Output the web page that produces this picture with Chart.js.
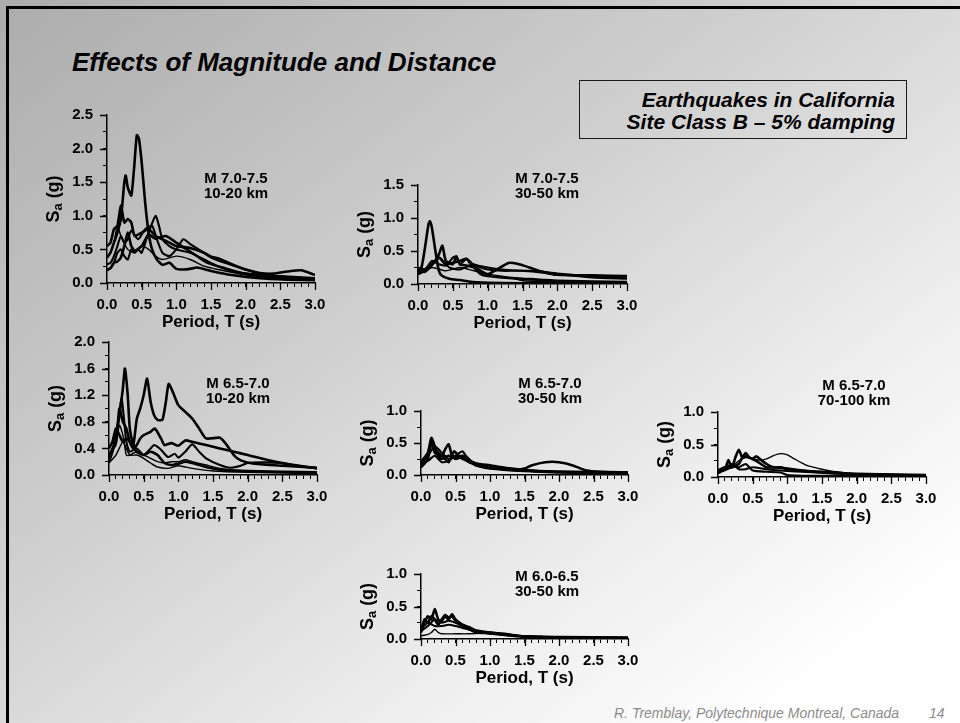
<!DOCTYPE html>
<html>
<head>
<meta charset="utf-8">
<script src="https://cdn.jsdelivr.net/npm/chart.js@4.4.1/dist/chart.umd.min.js"></script>
<style>
  html, body { margin: 0; padding: 0; }
  #slide {
    position: relative; width: 960px; height: 723px; overflow: hidden;
    background: linear-gradient(to bottom right, #acacac 0%, #cfcfcf 40%, #eeeeee 70%, #ffffff 90%);
    font-family: "Liberation Sans", Arial, sans-serif; color: #000;
  }
  .frame-top { position: absolute; left: 6px; top: 6px; right: 0; height: 3px; background: #000; }
  .frame-left { position: absolute; left: 6px; top: 6px; bottom: 0; width: 3px; background: #000; }
  .title { position: absolute; left: 72px; top: 49px; margin: 0; white-space: nowrap;
    font: italic bold 26px/26px "Liberation Sans", Arial, sans-serif; }
  .note-box { position: absolute; left: 579px; top: 80px; width: 328px; height: 59px;
    box-sizing: border-box; border: 1px solid #1a1a1a; }
  .note-text { position: absolute; right: 65px; top: 89px; text-align: right; white-space: nowrap;
    font: italic bold 21px/22px "Liberation Sans", Arial, sans-serif; }
  .ann { position: absolute; width: 140px; text-align: center; white-space: nowrap;
    font: bold 15px/15px "Liberation Sans", Arial, sans-serif; }
  .footer { position: absolute; top: 706px; left: 614px; white-space: nowrap; color: #8c8c8c;
    font: italic 14px/14px "Liberation Sans", Arial, sans-serif; }
  .page-no { position: absolute; top: 706px; left: 929px; color: #8c8c8c;
    font: italic 14px/14px "Liberation Sans", Arial, sans-serif; }
  canvas { position: absolute; }
</style>
</head>
<body>
<div id="slide">
  <div class="frame-top"></div>
  <div class="frame-left"></div>
  <div class="title">Effects of Magnitude and Distance</div>
  <div class="note-box"></div>
  <div class="note-text">Earthquakes in California<br>Site Class B – 5% damping</div>
  <div class="footer">R. Tremblay, Polytechnique Montreal, Canada</div>
  <div class="page-no">14</div>
</div>
<script>
// ---- Response spectra, [period T (s), Sa (g)] ----

// M 7.0-7.5, 10-20 km
const a1 = [[0,0.38],[0.05,0.45],[0.1,0.6],[0.15,0.75],[0.2,0.95],[0.25,1.5],[0.27,1.6],[0.3,1.42],[0.35,1.3],[0.39,1.7],[0.43,2.2],[0.46,2.15],[0.5,1.8],[0.55,1.2],[0.6,0.75],[0.65,0.5],[0.72,0.35],[0.8,0.27],[0.9,0.3],[1.0,0.21],[1.1,0.2],[1.2,0.21],[1.3,0.23],[1.5,0.18],[1.8,0.12],[2.2,0.07],[2.6,0.05],[3.0,0.04]];
const a2 = [[0,0.55],[0.05,0.6],[0.1,0.8],[0.15,0.85],[0.2,1.15],[0.25,0.9],[0.3,0.95],[0.35,0.9],[0.4,0.7],[0.5,0.75],[0.6,0.8],[0.7,0.7],[0.8,0.65],[0.9,0.6],[1.0,0.55],[1.2,0.52],[1.4,0.45],[1.5,0.39],[1.6,0.37],[1.8,0.28],[2.0,0.2],[2.2,0.15],[2.4,0.14],[2.6,0.17],[2.8,0.19],[3.0,0.12]];
const a3 = [[0,0.2],[0.05,0.22],[0.1,0.3],[0.15,0.45],[0.2,0.5],[0.25,0.4],[0.3,0.35],[0.35,0.5],[0.4,0.45],[0.45,0.5],[0.5,0.45],[0.6,0.75],[0.7,1.0],[0.75,0.85],[0.8,0.65],[0.9,0.55],[1.0,0.5],[1.2,0.45],[1.4,0.35],[1.6,0.25],[1.8,0.18],[2.0,0.14],[2.5,0.08],[3.0,0.05]];
const a4 = [[0,0.28],[0.05,0.3],[0.1,0.4],[0.15,0.55],[0.2,0.7],[0.25,0.6],[0.3,0.65],[0.35,0.78],[0.45,0.65],[0.55,0.8],[0.65,0.85],[0.72,0.65],[0.8,0.45],[0.9,0.4],[1.0,0.5],[1.1,0.65],[1.2,0.58],[1.35,0.48],[1.5,0.38],[1.7,0.3],[2.0,0.2],[2.3,0.12],[2.7,0.08],[3.0,0.06]];
const a5 = [[0,0.19],[0.05,0.22],[0.1,0.3],[0.15,0.32],[0.2,0.38],[0.25,0.55],[0.3,0.75],[0.35,0.55],[0.4,0.48],[0.5,0.55],[0.6,0.72],[0.7,0.66],[0.85,0.7],[1.0,0.6],[1.15,0.5],[1.3,0.4],[1.45,0.3],[1.7,0.22],[2.0,0.14],[2.5,0.1],[3.0,0.07]];
const a6 = [[0,0.38],[0.05,0.45],[0.1,0.6],[0.15,0.85],[0.2,0.7],[0.3,0.5],[0.4,0.45],[0.5,0.55],[0.6,0.5],[0.7,0.4],[0.8,0.35],[1.0,0.4],[1.2,0.35],[1.4,0.25],[1.6,0.2],[2.0,0.12],[2.5,0.07],[3.0,0.05]];

// M 7.0-7.5, 30-50 km
const b1 = [[0,0.2],[0.05,0.25],[0.1,0.55],[0.15,0.9],[0.17,0.95],[0.2,0.85],[0.25,0.5],[0.3,0.2],[0.35,0.12],[0.45,0.08],[0.6,0.06],[0.8,0.03],[1.0,0.02],[1.5,0.01],[3.0,0.01]];
const b2 = [[0,0.15],[0.1,0.2],[0.2,0.3],[0.25,0.35],[0.3,0.45],[0.35,0.58],[0.4,0.35],[0.5,0.3],[0.55,0.42],[0.6,0.3],[0.7,0.28],[0.8,0.25],[0.9,0.15],[1.0,0.12],[1.2,0.1],[1.5,0.08],[2.0,0.05],[3.0,0.03]];
const b3 = [[0,0.25],[0.1,0.22],[0.2,0.35],[0.3,0.3],[0.4,0.28],[0.5,0.4],[0.55,0.42],[0.6,0.3],[0.7,0.38],[0.75,0.3],[0.85,0.28],[1.0,0.25],[1.2,0.22],[1.5,0.2],[1.7,0.2],[2.0,0.16],[2.5,0.12],[3.0,0.1]];
const b4 = [[0,0.18],[0.15,0.25],[0.3,0.4],[0.4,0.3],[0.6,0.35],[0.7,0.38],[0.8,0.28],[0.9,0.2],[1.0,0.15],[1.1,0.2],[1.3,0.32],[1.45,0.3],[1.6,0.25],[1.8,0.18],[2.0,0.14],[2.5,0.13],[3.0,0.12]];
const b5 = [[0,0.2],[0.1,0.18],[0.2,0.28],[0.3,0.4],[0.45,0.25],[0.6,0.22],[0.8,0.3],[0.9,0.25],[1.0,0.22],[1.2,0.2],[1.5,0.2],[1.8,0.17],[2.0,0.15],[2.5,0.1],[3.0,0.08]];
const b6 = [[0,0.15],[0.2,0.25],[0.4,0.2],[0.6,0.25],[0.8,0.2],[1.0,0.15],[1.3,0.1],[1.5,0.05],[2.0,0.04],[3.0,0.03]];

// M 6.5-7.0, 10-20 km
const c1 = [[0,0.4],[0.05,0.5],[0.1,0.7],[0.15,0.6],[0.2,0.5],[0.25,0.55],[0.3,0.5],[0.35,0.45],[0.4,0.84],[0.45,1.0],[0.5,1.2],[0.55,1.45],[0.6,1.1],[0.65,0.9],[0.7,0.83],[0.77,0.83],[0.82,1.1],[0.86,1.37],[0.92,1.25],[1.0,1.05],[1.1,0.95],[1.2,0.85],[1.3,0.7],[1.4,0.55],[1.6,0.56],[1.7,0.45],[1.8,0.3],[1.9,0.22],[2.1,0.17],[2.5,0.14],[3.0,0.11]];
const c2 = [[0,0.2],[0.05,0.35],[0.1,0.6],[0.15,0.9],[0.2,1.3],[0.23,1.6],[0.27,1.2],[0.3,0.7],[0.35,0.45],[0.4,0.35],[0.5,0.3],[0.6,0.35],[0.7,0.3],[0.8,0.18],[0.9,0.15],[1.0,0.17],[1.1,0.2],[1.2,0.18],[1.4,0.12],[1.6,0.08],[2.0,0.06],[3.0,0.04]];
const c3 = [[0,0.3],[0.1,0.5],[0.15,1.0],[0.2,0.8],[0.25,0.7],[0.3,0.5],[0.35,0.4],[0.4,0.45],[0.45,0.55],[0.5,0.6],[0.6,0.65],[0.66,0.7],[0.75,0.55],[0.8,0.45],[0.9,0.48],[1.0,0.44],[1.1,0.52],[1.2,0.5],[1.4,0.45],[1.6,0.4],[1.8,0.35],[2.0,0.3],[2.3,0.22],[2.6,0.16],[3.0,0.1]];
const c4 = [[0,0.25],[0.1,0.55],[0.18,1.15],[0.22,0.8],[0.25,0.5],[0.3,0.35],[0.4,0.4],[0.5,0.3],[0.6,0.4],[0.65,0.45],[0.75,0.38],[0.85,0.27],[0.95,0.32],[1.0,0.26],[1.1,0.35],[1.2,0.46],[1.3,0.35],[1.4,0.25],[1.6,0.15],[1.75,0.11],[1.9,0.14],[2.0,0.18],[2.2,0.19],[2.5,0.18],[2.7,0.14],[3.0,0.1]];
const c5 = [[0,0.3],[0.1,0.45],[0.15,0.75],[0.2,0.6],[0.25,0.3],[0.3,0.3],[0.4,0.35],[0.5,0.3],[0.6,0.25],[0.7,0.2],[0.8,0.18],[0.9,0.2],[1.0,0.2],[1.1,0.23],[1.2,0.2],[1.4,0.15],[1.6,0.1],[2.0,0.06],[2.5,0.04],[3.0,0.03]];
const c6 = [[0,0.18],[0.1,0.3],[0.2,0.5],[0.25,0.4],[0.3,0.3],[0.4,0.3],[0.5,0.25],[0.6,0.18],[0.7,0.12],[0.85,0.1],[1.0,0.14],[1.2,0.1],[1.5,0.06],[2.0,0.04],[3.0,0.02]];

// M 6.5-7.0, 30-50 km
const d1 = [[0,0.2],[0.1,0.35],[0.15,0.58],[0.2,0.45],[0.25,0.3],[0.3,0.25],[0.4,0.3],[0.5,0.28],[0.6,0.3],[0.7,0.22],[0.8,0.15],[1.0,0.12],[1.2,0.09],[1.4,0.08],[1.5,0.1],[1.6,0.15],[1.8,0.2],[2.0,0.2],[2.2,0.15],[2.4,0.07],[2.6,0.05],[3.0,0.04]];
const d2 = [[0,0.15],[0.1,0.3],[0.15,0.5],[0.2,0.35],[0.3,0.3],[0.35,0.4],[0.4,0.48],[0.45,0.3],[0.5,0.25],[0.6,0.28],[0.7,0.2],[0.9,0.15],[1.0,0.13],[1.2,0.1],[1.5,0.07],[2.0,0.05],[3.0,0.03]];
const d3 = [[0,0.12],[0.1,0.25],[0.15,0.55],[0.2,0.4],[0.25,0.35],[0.35,0.25],[0.4,0.2],[0.48,0.37],[0.55,0.3],[0.65,0.25],[0.8,0.18],[1.0,0.15],[1.3,0.1],[1.6,0.07],[2.0,0.05],[3.0,0.04]];
const d4 = [[0,0.18],[0.1,0.22],[0.2,0.3],[0.3,0.2],[0.4,0.22],[0.5,0.3],[0.6,0.37],[0.65,0.3],[0.75,0.2],[0.9,0.15],[1.0,0.14],[1.3,0.1],[1.6,0.06],[2.0,0.04],[3.0,0.03]];
const d5 = [[0,0.15],[0.1,0.3],[0.2,0.45],[0.3,0.35],[0.4,0.25],[0.5,0.3],[0.6,0.25],[0.8,0.15],[1.0,0.1],[1.5,0.06],[2.0,0.04],[3.0,0.02]];

// M 6.5-7.0, 70-100 km
const e1 = [[0,0.08],[0.1,0.1],[0.2,0.15],[0.3,0.25],[0.4,0.3],[0.5,0.28],[0.6,0.26],[0.7,0.28],[0.8,0.33],[0.9,0.36],[1.0,0.34],[1.1,0.28],[1.2,0.22],[1.3,0.17],[1.5,0.12],[1.7,0.08],[2.0,0.05],[2.5,0.04],[3.0,0.03]];
const e2 = [[0,0.1],[0.1,0.15],[0.2,0.15],[0.25,0.3],[0.3,0.42],[0.35,0.3],[0.4,0.32],[0.5,0.28],[0.55,0.32],[0.6,0.28],[0.7,0.2],[0.8,0.15],[0.9,0.14],[1.0,0.13],[1.2,0.1],[1.5,0.07],[2.0,0.04],[3.0,0.02]];
const e3 = [[0,0.06],[0.1,0.12],[0.15,0.26],[0.2,0.15],[0.3,0.2],[0.35,0.3],[0.4,0.37],[0.45,0.3],[0.55,0.25],[0.7,0.15],[0.9,0.15],[1.0,0.12],[1.2,0.1],[1.5,0.08],[2.0,0.05],[3.0,0.03]];
const e4 = [[0,0.08],[0.1,0.12],[0.2,0.18],[0.3,0.15],[0.4,0.2],[0.5,0.1],[0.7,0.08],[0.9,0.07],[1.0,0.03],[1.2,0.02],[1.5,0.02],[3.0,0.02]];
const e5 = [[0,0.1],[0.1,0.14],[0.2,0.2],[0.3,0.12],[0.4,0.12],[0.5,0.15],[0.7,0.12],[0.9,0.1],[1.2,0.08],[1.5,0.07],[2.0,0.04],[3.0,0.03]];

// M 6.0-6.5, 30-50 km
const f1 = [[0,0.15],[0.05,0.25],[0.1,0.35],[0.15,0.3],[0.2,0.46],[0.25,0.3],[0.3,0.28],[0.35,0.35],[0.4,0.3],[0.45,0.38],[0.5,0.3],[0.6,0.22],[0.7,0.18],[0.8,0.13],[1.0,0.1],[1.2,0.08],[1.5,0.04],[2.0,0.03],[3.0,0.02]];
const f2 = [[0,0.1],[0.05,0.3],[0.1,0.25],[0.15,0.35],[0.2,0.3],[0.25,0.22],[0.3,0.3],[0.35,0.37],[0.4,0.33],[0.45,0.35],[0.5,0.28],[0.6,0.2],[0.7,0.15],[0.8,0.1],[1.0,0.09],[1.2,0.07],[1.5,0.04],[2.0,0.02],[3.0,0.02]];
const f3 = [[0,0.12],[0.1,0.2],[0.2,0.3],[0.3,0.25],[0.4,0.28],[0.5,0.25],[0.6,0.2],[0.8,0.12],[1.0,0.1],[1.2,0.08],[1.5,0.04],[2.0,0.03],[3.0,0.02]];
const f4 = [[0,0.05],[0.1,0.07],[0.15,0.1],[0.2,0.15],[0.25,0.1],[0.3,0.08],[0.5,0.08],[0.7,0.08],[0.9,0.09],[1.0,0.1],[1.2,0.07],[1.5,0.04],[2.0,0.02],[3.0,0.01]];
const f5 = [[0,0.15],[0.1,0.25],[0.2,0.2],[0.3,0.2],[0.4,0.22],[0.5,0.2],[0.6,0.17],[0.8,0.12],[1.0,0.08],[1.5,0.03],[2.0,0.02],[3.0,0.01]];

// Axis tick labels
const periodLabels = [0, 0.5, 1.0, 1.5, 2.0, 2.5, 3.0];
const saLabelsA = [0, 0.5, 1.0, 1.5, 2.0, 2.5];
const saLabelsB = [0, 0.5, 1.0, 1.5];
const saLabelsC = [0, 0.4, 0.8, 1.2, 1.6, 2.0];
const saLabelsD = [0, 0.5, 1.0];

// Panel captions
const magnitudes = ['M 7.0-7.5', 'M 7.0-7.5', 'M 6.5-7.0', 'M 6.5-7.0', 'M 6.5-7.0', 'M 6.0-6.5'];
const distances = ['10-20 km', '30-50 km', '10-20 km', '30-50 km', '70-100 km', '30-50 km'];

// ---- Layout of the six small plots (plot-area edges in page pixels) ----
const THICK = 2.6, MID = 2.1, THIN = 1.4;
const panels = [
  { area: [107, 315, 110, 283], yMajor: saLabelsA, yMinor: 0.25, curves: [a1, a2, a3, a4, a5, a6], widths: [THICK, THICK, MID, MID, THICK, THIN], cap: [236, 177] },
  { area: [418, 627, 180, 284], yMajor: saLabelsB, yMinor: 0.25, curves: [b1, b2, b3, b4, b5, b6], widths: [THICK, THICK, MID, THICK, MID, THIN], cap: [547, 177] },
  { area: [109, 317, 337, 475], yMajor: saLabelsC, yMinor: 0.2,  curves: [c1, c2, c3, c4, c5, c6], widths: [THICK, THICK, THICK, MID, THIN, THIN], cap: [238, 382] },
  { area: [421, 628, 406, 475], yMajor: saLabelsD, yMinor: 0.25, curves: [d1, d2, d3, d4, d5], widths: [THICK, THICK, THICK, MID, MID], cap: [550, 382] },
  { area: [718, 926, 407, 477], yMajor: saLabelsD, yMinor: 0.25, curves: [e1, e2, e3, e4, e5], widths: [THIN, THICK, THICK, MID, MID], cap: [854, 384] },
  { area: [421, 628, 569, 639], yMajor: saLabelsD, yMinor: 0.25, curves: [f1, f2, f3, f4, f5], widths: [THICK, THICK, MID, THIN, MID], cap: [547, 575] }
];

const FONT = '"Liberation Sans", Arial, sans-serif';
const Y_AXIS_W = 72, X_AXIS_H = 52, PAD_T = 14, PAD_R = 24;

Chart.defaults.font.family = FONT;
Chart.defaults.color = '#000';

const isOn = (v, list) => list.some(m => Math.abs(m - v) < 1e-6);

// Longer marks at the labelled ticks, plus the rotated "Sa (g)" title with subscript
const axisDecor = {
  id: 'axisDecor',
  afterDraw(chart, args, opts) {
    const { ctx, chartArea: ca, scales: { x, y } } = chart;
    ctx.save();
    ctx.strokeStyle = '#000';
    ctx.lineWidth = 1.3;
    ctx.beginPath();
    periodLabels.forEach(v => {
      const px = Math.round(x.getPixelForValue(v)) + 0.5;
      ctx.moveTo(px, ca.bottom); ctx.lineTo(px, ca.bottom + 7);
    });
    opts.yMajor.forEach(v => {
      const py = Math.round(y.getPixelForValue(v)) + 0.5;
      ctx.moveTo(ca.left, py); ctx.lineTo(ca.left - 7, py);
    });
    ctx.stroke();

    ctx.translate(ca.left - 53, (ca.top + ca.bottom) / 2);
    ctx.rotate(-Math.PI / 2);
    ctx.fillStyle = '#000';
    ctx.textAlign = 'left';
    ctx.textBaseline = 'middle';
    const big = 'bold 18px ' + FONT, small = 'bold 13px ' + FONT;
    ctx.font = big;
    const wS = ctx.measureText('S').width, wRest = ctx.measureText(' (g)').width;
    ctx.font = small;
    const wa = ctx.measureText('a').width;
    let sx = -(wS + wa + wRest) / 2;
    ctx.font = big; ctx.fillText('S', sx, 0); sx += wS;
    ctx.font = small; ctx.fillText('a', sx, 4); sx += wa;
    ctx.font = big; ctx.fillText(' (g)', sx, 0);
    ctx.restore();
  }
};

const slide = document.getElementById('slide');

panels.forEach((p, i) => {
  const [x0, x3, yt, yb] = p.area;
  const W = (x3 - x0) + Y_AXIS_W + PAD_R;
  const H = (yb - yt) + PAD_T + X_AXIS_H;
  const cv = document.createElement('canvas');
  cv.width = W; cv.height = H;
  cv.style.left = (x0 - Y_AXIS_W) + 'px';
  cv.style.top = (yt - PAD_T) + 'px';
  cv.style.width = W + 'px';
  cv.style.height = H + 'px';
  slide.appendChild(cv);

  const yMax = p.yMajor[p.yMajor.length - 1];
  const yTicks = [];
  for (let k = 0; k <= Math.round(yMax / p.yMinor); k++) yTicks.push(+(k * p.yMinor).toFixed(3));
  const xTicks = [];
  for (let k = 0; k <= 30; k++) xTicks.push(+(k * 0.1).toFixed(2));

  new Chart(cv, {
    type: 'line',
    data: {
      datasets: p.curves.map((c, j) => ({
        data: c.map(([t, sa]) => ({ x: t, y: sa })),
        borderColor: '#000',
        borderWidth: p.widths[j],
        pointRadius: 0,
        tension: 0.2,
        fill: false
      }))
    },
    options: {
      responsive: false,
      animation: false,
      events: [],
      layout: { padding: { left: 0, right: PAD_R, top: PAD_T, bottom: 0 } },
      plugins: {
        legend: { display: false },
        tooltip: { enabled: false },
        axisDecor: { yMajor: p.yMajor }
      },
      scales: {
        x: {
          type: 'linear', min: 0, max: 3,
          afterBuildTicks: s => { s.ticks = xTicks.map(v => ({ value: v })); },
          afterFit: s => { s.height = X_AXIS_H; },
          ticks: {
            autoSkip: false, maxRotation: 0, padding: 9,
            font: { size: 15, weight: 'bold' }, color: '#000',
            callback: v => isOn(v, periodLabels) ? v.toFixed(1) : ''
          },
          grid: { display: true, drawOnChartArea: false, drawTicks: true, tickLength: 4, color: '#000', lineWidth: 1 },
          border: { display: true, color: '#000', width: 1.5 },
          title: { display: true, text: 'Period, T (s)', color: '#000', font: { size: 17, weight: 'bold' }, padding: { top: 0, bottom: 2 } }
        },
        y: {
          type: 'linear', min: 0, max: yMax,
          afterBuildTicks: s => { s.ticks = yTicks.map(v => ({ value: v })); },
          afterFit: s => { s.width = Y_AXIS_W; },
          ticks: {
            autoSkip: false, padding: 10,
            font: { size: 15, weight: 'bold' }, color: '#000',
            callback: v => isOn(v, p.yMajor) ? v.toFixed(1) : ''
          },
          grid: { display: true, drawOnChartArea: false, drawTicks: true, tickLength: 4, color: '#000', lineWidth: 1 },
          border: { display: true, color: '#000', width: 1.5 }
        }
      }
    },
    plugins: [axisDecor]
  });

  const cap = document.createElement('div');
  cap.className = 'ann';
  cap.style.left = (p.cap[0] - 70) + 'px';
  cap.style.top = (p.cap[1] - 7.5) + 'px';
  cap.innerHTML = magnitudes[i] + '<br>' + distances[i];
  slide.appendChild(cap);
});
</script>
</body>
</html>
